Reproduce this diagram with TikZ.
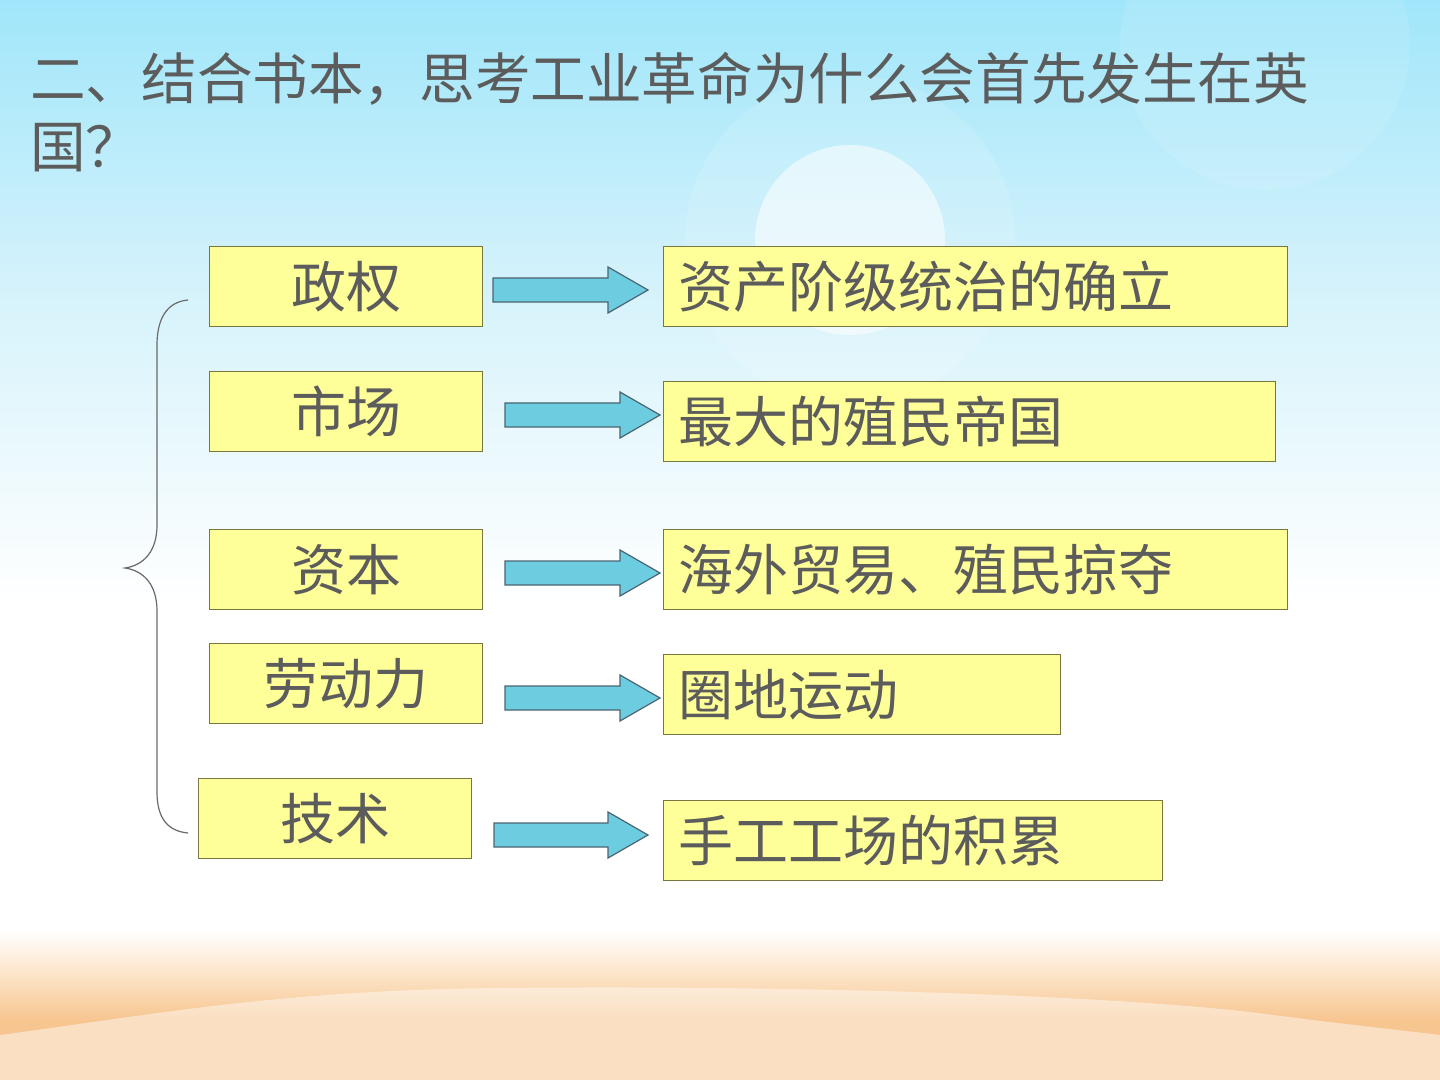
\documentclass[tikz,border=0pt]{standalone}
\usepackage{fontspec}
\setmainfont{Noto Sans CJK SC}
\usetikzlibrary{positioning,calc}
\definecolor{hsInk}{HTML}{5C5C5C}
\definecolor{hsEdge}{HTML}{77773F}
\definecolor{hsFill}{HTML}{FFFF99}
\definecolor{hsCyan}{HTML}{6DCDE0}
\definecolor{hsSlate}{HTML}{4A6472}
\definecolor{hsSkyTop}{HTML}{A0E6FA}
\definecolor{hsSkyMid}{HTML}{D4F2FB}
\definecolor{hsSand}{HTML}{F7C590}
\definecolor{hsSandPale}{HTML}{FCE4C8}
\definecolor{hsBrace}{HTML}{6A6A6A}
\pgfdeclareverticalshading{hsSkyShade}{100bp}{color(0bp)=(white); color(47bp)=(white);
  color(62bp)=(hsSkyMid); color(75bp)=(hsSkyTop); color(100bp)=(hsSkyTop)}
\pgfdeclareverticalshading{hsSandShade}{100bp}{color(0bp)=(hsSand); color(45bp)=(hsSand);
  color(60bp)=(hsSandPale); color(75bp)=(white); color(100bp)=(white)}
\tikzset{
  box/.style      ={draw=hsEdge,line width=0.7pt,fill=hsFill,text=hsInk,
                    inner ysep=0pt,minimum height=40pt,
                    font=\fontsize{27.5}{33}\selectfont},
  leftbox/.style  ={box,minimum width=136.5pt,inner xsep=0pt},
  rightbox/.style ={box,text width=#1,align=left,inner xsep=7.5pt},
  barrow/.style   ={draw=hsSlate,line width=0.6pt,fill=hsCyan},
  curlbrace/.style={draw=hsBrace,line width=0.6pt},
  ttl/.style      ={align=left,inner sep=0pt,text=hsInk,
                    font=\fontsize{27.8}{34}\selectfont},
}
% block arrow: x start, x tip, y centre
\newcommand{\blockarrow}[3]{\draw[barrow] (#1,#3-12) -- (#2-40,#3-12) -- (#2-40,#3-23)
  -- (#2,#3) -- (#2-40,#3+23) -- (#2-40,#3+12) -- (#1,#3+12) -- cycle;}
\begin{document}
\begin{tikzpicture}[x=0.5pt,y=-0.5pt]
\useasboundingbox (0,0) rectangle (1440,1080);
% background
\fill[shading=hsSkyShade] (0,0) rectangle (1440,1080);
\fill[white,opacity=0.12] (850,240) circle (165);
\fill[white,opacity=0.55] (850,240) circle (95);
\fill[white,opacity=0.1] (1265,45) circle (145);
\fill[shading=hsSandShade] (0,930) rectangle (1440,1080);
\fill[white,opacity=0.45] (0,1035) .. controls (150,1015) and (280,990) .. (500,988)
  .. controls (800,985) and (1100,995) .. (1250,1012) .. controls (1350,1025) and (1400,1030) .. (1440,1035)
  -- (1440,1080) -- (0,1080) -- cycle;

\node[ttl,anchor=north west] (title) at (30,52)
  {二、结合书本，思考工业革命为什么会首先发生在英\\国？};

\node[leftbox,anchor=north west] (zhengquan) at (209,246) {政权};
\node[leftbox,anchor=north west] (shichang)  at (209,371) {市场};
\node[leftbox,anchor=north west] (ziben)     at (209,529) {资本};
\node[leftbox,anchor=north west] (laodong)   at (209,643) {劳动力};
\node[leftbox,anchor=north west] (jishu)     at (198,778) {技术};

\node[rightbox=297pt,anchor=north west]   (zichan)  at (663,246) {资产阶级统治的确立};
\node[rightbox=291pt,anchor=north west]   (zhimin)  at (663,381) {最大的殖民帝国};
\node[rightbox=297pt,anchor=north west]   (haiwai)  at (663,529) {海外贸易、殖民掠夺};
\node[rightbox=183.5pt,anchor=north west] (quandi)  at (663,654) {圈地运动};
\node[rightbox=234.5pt,anchor=north west] (shougong) at (663,800) {手工工场的积累};

\blockarrow{493}{648}{290}
\blockarrow{505}{660}{415}
\blockarrow{505}{660}{573}
\blockarrow{505}{660}{698}
\blockarrow{494}{648}{835}

\draw[curlbrace] (188,300) .. controls (166,302) and (157,320) .. (157,345) -- (157,525)
  .. controls (157,550) and (145,565) .. (125,568) .. controls (145,571) and (157,586) .. (157,611)
  -- (157,792) .. controls (157,816) and (166,831) .. (188,833);
\end{tikzpicture}
\end{document}
